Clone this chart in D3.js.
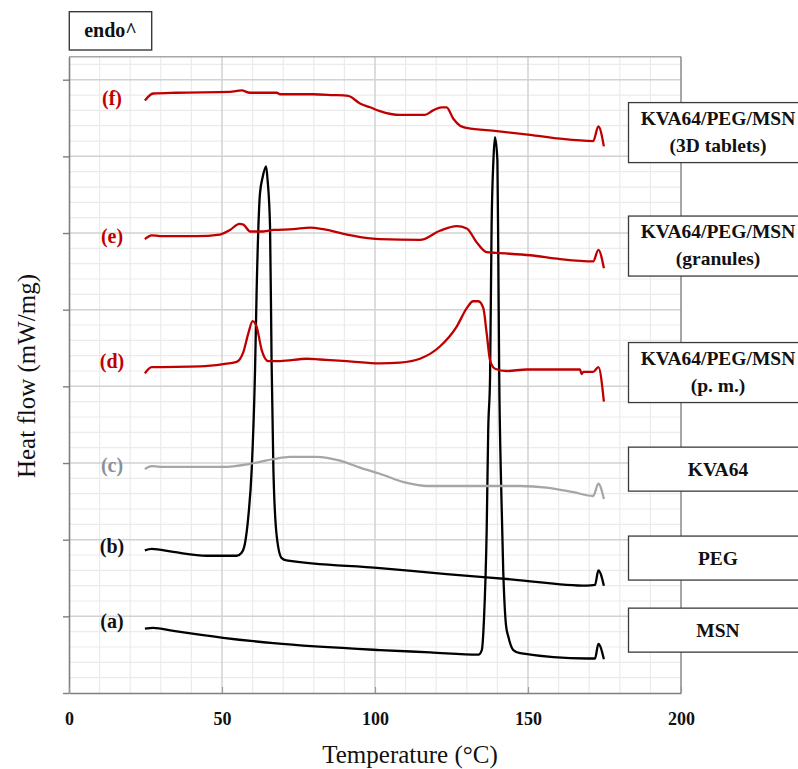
<!DOCTYPE html>
<html>
<head>
<meta charset="utf-8">
<script src="https://cdn.jsdelivr.net/npm/d3@7"></script>
<style>
  body { margin: 0; background: #fff; }
  svg text { font-family: "Liberation Serif", "Times New Roman", serif; }
</style>
</head>
<body>
<div id="chart"></div>
<script>
// DSC thermograms (heat flow in stacked, arbitrary units)
const tempMSN = [24.8, 27.5, 34.1, 50.4, 66.8, 101.6, 118.0, 133.8, 134.9, 135.6, 136.5, 137.0, 137.6, 138.1, 138.7, 139.2, 140.0, 140.3, 140.6, 141.1, 141.9, 142.8, 143.6, 145.2, 147.4, 169.2, 171.9, 173.0, 174.8];
const flowMSN = [0.84, 0.85, 0.81, 0.72, 0.65, 0.56, 0.53, 0.50, 0.56, 0.95, 2.13, 3.43, 4.12, 6.08, 6.95, 7.25, 6.95, 5.65, 4.12, 2.91, 1.60, 0.89, 0.73, 0.56, 0.52, 0.45, 0.45, 0.64, 0.44];

const tempPEG = [24.8, 27.0, 34.1, 45.0, 54.8, 56.4, 57.5, 58.6, 59.7, 60.8, 61.3, 62.4, 63.3, 64.4, 64.9, 65.7, 66.2, 66.8, 67.9, 69.5, 71.1, 101.6, 123.4, 145.2, 169.2, 171.9, 173.0, 174.8];
const flowPEG = [1.86, 1.88, 1.84, 1.79, 1.79, 1.83, 1.95, 2.30, 2.91, 4.21, 5.21, 6.51, 6.73, 6.87, 6.69, 6.08, 4.34, 2.91, 2.04, 1.76, 1.73, 1.63, 1.55, 1.48, 1.40, 1.41, 1.60, 1.40];

const tempKVA = [24.8, 27.0, 29.7, 50.4, 59.2, 66.8, 72.2, 80.9, 88.6, 95.1, 101.6, 110.4, 116.9, 134.3, 147.4, 156.1, 164.8, 171.3, 173.0, 174.8];
const flowKVA = [2.92, 2.96, 2.95, 2.95, 2.99, 3.05, 3.08, 3.08, 3.03, 2.94, 2.86, 2.74, 2.70, 2.70, 2.70, 2.68, 2.62, 2.57, 2.73, 2.53];

const tempPM = [24.8, 27.0, 42.8, 50.4, 54.8, 57.0, 58.6, 60.0, 61.3, 63.0, 65.1, 69.0, 77.7, 82.0, 90.8, 101.6, 108.2, 114.7, 121.2, 126.7, 130.0, 132.1, 133.8, 135.4, 136.5, 137.6, 139.2, 143.0, 149.6, 160.5, 167.0, 167.5, 168.1, 171.3, 173.0, 174.8];
const flowPM = [4.17, 4.25, 4.26, 4.29, 4.32, 4.45, 4.69, 4.85, 4.78, 4.47, 4.33, 4.33, 4.36, 4.35, 4.33, 4.30, 4.31, 4.36, 4.52, 4.78, 5.02, 5.11, 5.11, 5.02, 4.69, 4.34, 4.23, 4.20, 4.22, 4.22, 4.22, 4.16, 4.19, 4.19, 4.25, 3.80];

const tempGran = [24.8, 27.0, 29.7, 41.7, 49.3, 52.6, 55.7, 57.0, 59.2, 63.5, 66.8, 73.3, 78.8, 83.1, 90.8, 98.4, 101.6, 114.7, 121.2, 126.7, 130.0, 133.2, 136.5, 139.8, 150.7, 160.5, 171.3, 173.0, 174.8];
const flowGran = [5.92, 5.97, 5.96, 5.96, 5.98, 6.04, 6.12, 6.11, 6.02, 6.02, 6.04, 6.05, 6.07, 6.05, 5.98, 5.93, 5.92, 5.91, 6.03, 6.09, 6.06, 5.88, 5.75, 5.74, 5.71, 5.66, 5.63, 5.78, 5.54];

const tempTab = [24.8, 27.5, 35.3, 52.6, 56.4, 59.1, 67.9, 69.0, 79.7, 86.3, 91.2, 95.1, 98.4, 101.6, 108.2, 116.3, 119.0, 121.8, 123.4, 125.6, 127.8, 130.0, 139.8, 150.7, 160.5, 171.3, 173.0, 174.8];
const flowTab = [7.73, 7.82, 7.83, 7.84, 7.86, 7.83, 7.83, 7.81, 7.81, 7.80, 7.79, 7.69, 7.64, 7.59, 7.54, 7.54, 7.60, 7.64, 7.64, 7.49, 7.40, 7.37, 7.33, 7.28, 7.23, 7.20, 7.39, 7.13];

const seriesLetters = ["(a)", "(b)", "(c)", "(d)", "(e)", "(f)"];
const seriesNames = [["MSN"], ["PEG"], ["KVA64"], ["KVA64/PEG/MSN", "(p. m.)"], ["KVA64/PEG/MSN", "(granules)"], ["KVA64/PEG/MSN", "(3D tablets)"]];
const seriesColors = ["#000000", "#000000", "#a6a6a6", "#c00000", "#c00000", "#c00000"];
const letterColors = ["#111111", "#111111", "#8a8f99", "#c00000", "#c00000", "#c00000"];
// where the letter and the name box sit, in heat-flow units
const letterLevels = [0.85, 1.83, 2.88, 4.24, 5.87, 7.67];
const boxLevels = [0.82, 1.76, 2.92, 4.18, 5.83, 7.31];
const xTicks = [0, 50, 100, 150, 200];

const temps = [tempMSN, tempPEG, tempKVA, tempPM, tempGran, tempTab];
const flows = [flowMSN, flowPEG, flowKVA, flowPM, flowGran, flowTab];

const width = 798, height = 769;
const plotLeft = 69, plotRight = 681, plotTop = 56.7, plotBottom = 693;

const x = d3.scaleLinear().domain([0, 200]).range([plotLeft, plotRight]);
const y = d3.scaleLinear().domain([0, 8.3]).range([plotBottom, plotTop]);

const svg = d3.select("#chart").append("svg")
    .attr("width", width)
    .attr("height", height);

// grid
const grid = svg.append("g");
grid.selectAll(".vminor").data(d3.range(10, 200, 10).filter(d => d % 50 !== 0))
    .join("line")
    .attr("x1", d => x(d)).attr("x2", d => x(d))
    .attr("y1", plotTop).attr("y2", plotBottom)
    .attr("stroke", "#ebebeb").attr("stroke-width", 1.2);
grid.selectAll(".hminor").data(d3.range(1, 42).filter(i => i % 5 !== 0).map(i => i / 5))
    .join("line")
    .attr("x1", plotLeft).attr("x2", plotRight)
    .attr("y1", d => y(d)).attr("y2", d => y(d))
    .attr("stroke", "#ebebeb").attr("stroke-width", 1.2);
grid.selectAll(".vmajor").data([50, 100, 150])
    .join("line")
    .attr("x1", d => x(d)).attr("x2", d => x(d))
    .attr("y1", plotTop).attr("y2", plotBottom)
    .attr("stroke", "#d2d2d2").attr("stroke-width", 1.5);
grid.selectAll(".hmajor").data(d3.range(1, 9))
    .join("line")
    .attr("x1", plotLeft).attr("x2", plotRight)
    .attr("y1", d => y(d)).attr("y2", d => y(d))
    .attr("stroke", "#d2d2d2").attr("stroke-width", 1.5);

// frame
svg.append("line").attr("x1", plotLeft).attr("x2", plotRight).attr("y1", plotTop).attr("y2", plotTop)
    .attr("stroke", "#a6a6a6").attr("stroke-width", 1.4);
svg.append("line").attr("x1", plotRight).attr("x2", plotRight).attr("y1", plotTop).attr("y2", plotBottom)
    .attr("stroke", "#808080").attr("stroke-width", 1.4);

// axes
const yAxis = d3.axisLeft(y).tickValues(d3.range(0, 9)).tickFormat("").tickSize(6).tickSizeOuter(0);
svg.append("g").attr("transform", `translate(${plotLeft},0)`).call(yAxis)
    .call(g => g.select(".domain").attr("stroke", "#7f7f7f").attr("stroke-width", 1.6))
    .call(g => g.selectAll(".tick line").attr("stroke", "#7f7f7f").attr("stroke-width", 1.4));

const xAxis = d3.axisBottom(x).tickValues(xTicks).tickSize(-6).tickSizeOuter(0).tickPadding(19);
svg.append("g").attr("transform", `translate(0,${plotBottom})`).call(xAxis)
    .call(g => g.select(".domain").attr("stroke", "#7f7f7f").attr("stroke-width", 1.6))
    .call(g => g.selectAll(".tick line").attr("stroke", "#9a9a9a").attr("stroke-width", 1.2))
    .call(g => g.selectAll(".tick text")
        .attr("fill", "#111")
        .style("font-family", "Liberation Serif")
        .style("font-size", "18px")
        .style("font-weight", "bold"));

// curves
const line = d3.line().x(d => x(d[0])).y(d => y(d[1])).curve(d3.curveMonotoneX);
temps.forEach((t, i) => {
    svg.append("path")
        .datum(t.map((v, j) => [v, flows[i][j]]))
        .attr("fill", "none")
        .attr("stroke", seriesColors[i])
        .attr("stroke-width", 2.3)
        .attr("stroke-linejoin", "round")
        .attr("d", line);
});

// letters (a)..(f)
svg.selectAll(".letter").data(seriesLetters)
    .join("text")
    .attr("x", 112)
    .attr("y", (d, i) => y(letterLevels[i]))
    .attr("text-anchor", "middle")
    .attr("fill", (d, i) => letterColors[i])
    .style("font-size", "20px")
    .style("font-weight", "bold")
    .text(d => d);

// name boxes on the right
seriesNames.forEach((lines, i) => {
    const cy = y(boxLevels[i]);
    const h = lines.length > 1 ? 60 : 44;
    const g = svg.append("g");
    g.append("rect")
        .attr("x", 628.5).attr("y", cy - h / 2)
        .attr("width", 180).attr("height", h)
        .attr("fill", "#fff").attr("stroke", "#3a3a3a").attr("stroke-width", 1.3);
    lines.forEach((s, k) => {
        g.append("text")
            .attr("x", 718)
            .attr("y", lines.length > 1 ? cy - 8 + k * 27 : cy + 7)
            .attr("text-anchor", "middle")
            .attr("fill", "#111")
            .style("font-size", "19.5px")
            .style("font-weight", "bold")
            .text(s);
    });
});

// endo box
svg.append("rect").attr("x", 69.3).attr("y", 11.7).attr("width", 82.4).attr("height", 38.3)
    .attr("fill", "#fff").attr("stroke", "#3a3a3a").attr("stroke-width", 1.4);
svg.append("text").attr("x", 110.5).attr("y", 36.5).attr("text-anchor", "middle")
    .attr("fill", "#111").style("font-size", "20px").style("font-weight", "bold")
    .text("endo^");

// axis titles
svg.append("text").attr("x", 410).attr("y", 763).attr("text-anchor", "middle")
    .attr("fill", "#111").style("font-size", "25px")
    .text("Temperature (°C)");
svg.append("text").attr("transform", "translate(35,376) rotate(-90)")
    .attr("text-anchor", "middle")
    .attr("fill", "#111").style("font-size", "25px")
    .text("Heat flow (mW/mg)");
</script>
</body>
</html>
